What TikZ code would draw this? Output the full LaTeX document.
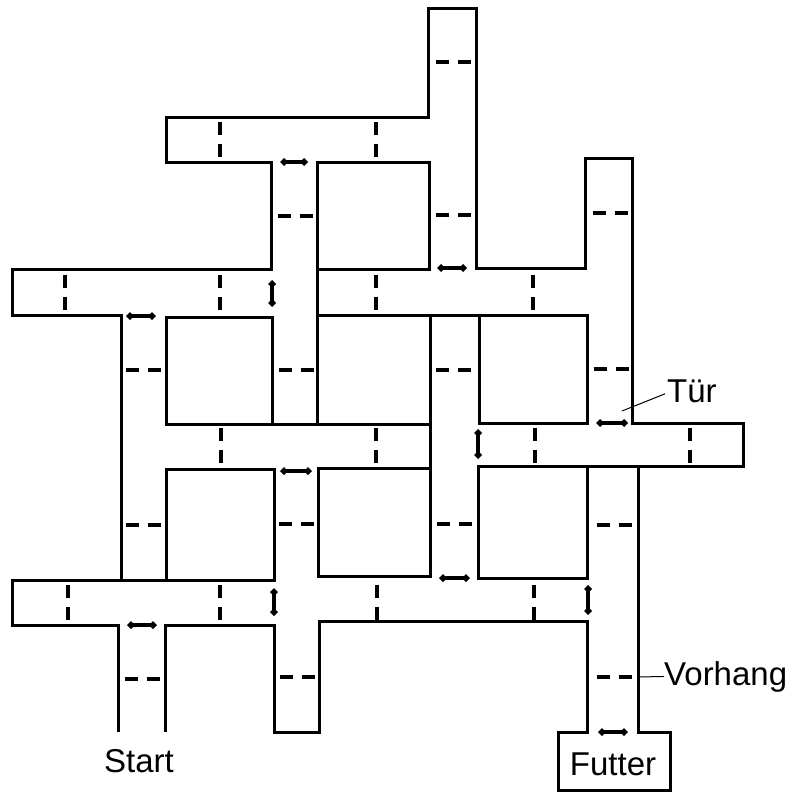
\documentclass[tikz,border=0pt]{standalone}
\usepackage{fontspec}
\setmainfont{Liberation Sans}
\usepackage{tikz}
\usetikzlibrary{arrows.meta}
\tikzset{
  maze wall/.style={draw, line width=3pt, line join=miter},
  maze door/.style={line width=3.2pt, {Diamond[length=8pt, width=8pt]}-{Diamond[length=8pt, width=8pt]}},
  maze curtain/.style={line width=4pt, dash pattern=on 13pt off 9pt},
  maze label/.style={font=\fontsize{33}{40}\selectfont, inner sep=0pt},
  maze leader/.style={line width=1pt},
}

\begin{document}
\begin{tikzpicture}[x=1pt, y=-1pt]
  \useasboundingbox (0,0) rectangle (790,792);
  \draw[maze wall] (121,580) -- (121,315) -- (12,315) -- (12,269) -- (271,269) -- (271,162) -- (166,162) -- (166,117) -- (428,117) -- (428,9) -- (476,9) -- (476,268) -- (585,268) -- (585,158) -- (632,158) -- (632,423) -- (743,423) -- (743,466) -- (478,466) -- (478,578) -- (587,578) -- (587,466);
  \draw[maze wall] (317,424) -- (317,162) -- (429,162) -- (429,269) -- (317,269);
  \draw[maze wall] (317,315) -- (587,315) -- (587,423) -- (479,423) -- (479,315);
  \draw[maze wall] (430,315) -- (430,576) -- (318,576) -- (318,468) -- (430,468);
  \draw[maze wall] (430,424) -- (166,424) -- (166,317) -- (272,317) -- (272,424);
  \draw[maze wall] (166,580) -- (166,469) -- (274,469) -- (274,580) -- (12,580) -- (12,625) -- (118,625) -- (118,732);
  \draw[maze wall] (165,732) -- (165,625) -- (274,625) -- (274,732) -- (319,732) -- (319,621) -- (587,621) -- (587,732) -- (558,732) -- (558,790) -- (670,790) -- (670,732) -- (638,732) -- (638,466);
  \draw[maze door] (280,162) -- (308,162);
  \draw[maze door] (437,268) -- (467,268);
  \draw[maze door] (126,316) -- (156,316);
  \draw[maze door] (272,280) -- (272,307);
  \draw[maze door] (280,471) -- (312,471);
  \draw[maze door] (478,429) -- (478,459);
  \draw[maze door] (596,423) -- (628,423);
  \draw[maze door] (439,578) -- (470,578);
  \draw[maze door] (274,588) -- (274,616);
  \draw[maze door] (588,585) -- (588,615);
  \draw[maze door] (127,625) -- (157,625);
  \draw[maze door] (598,732) -- (628,732);
  \foreach \cx/\cy in {220/139.5, 376/139.5, 65/292, 220/292, 376/292, 533/292, 221/445, 376/445, 535/445, 690/445, 68/602, 220/602, 377/602, 534/602}
    \draw[maze curtain] (\cx,\cy-17.5) -- (\cx,\cy+17.5);
  \foreach \cx/\cy in {143/370, 143/525, 142/679, 295/216, 296/370, 296/524, 297/677, 453/62, 453/215, 453/370, 454/524, 610/213, 611/369, 614/525, 614/677}
    \draw[maze curtain] (\cx-17.5,\cy) -- (\cx+17.5,\cy);
  \node[maze label, anchor=base] (start) at (139,772) {Start};
  \node[maze label, anchor=base] (futter) at (613,775) {Futter};
  \node[maze label, anchor=base west] (tuer) at (667,402) {Tür};
  \node[maze label, anchor=base west] (vorhang) at (664,685) {Vorhang};
  \coordinate (tuer door) at (622,411);
  \coordinate (vorhang curtain) at (638,677);
  \draw[maze leader] (tuer door) -- ([xshift=-2pt, yshift=-3pt]tuer.west);
  \draw[maze leader] (vorhang curtain) -- (vorhang.west);
\end{tikzpicture}
\end{document}
